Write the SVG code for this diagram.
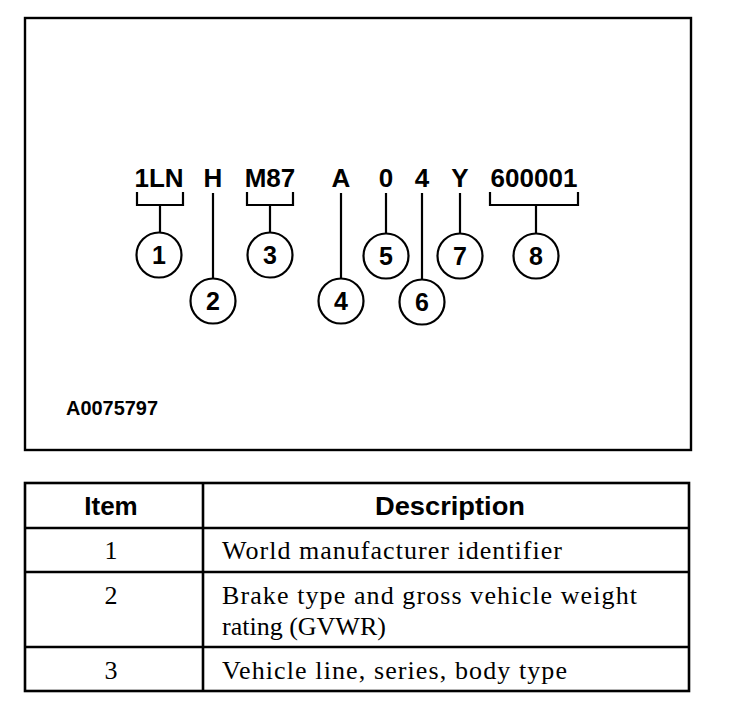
<svg xmlns="http://www.w3.org/2000/svg" width="736" height="722" viewBox="0 0 736 722">
<style>
.ln{fill:none;stroke:#000;stroke-width:2.2}
.c{fill:#fff;stroke:#000;stroke-width:2.2}
.lab{font-family:"Liberation Sans",Arial,sans-serif;font-weight:bold;font-size:26px;text-anchor:middle;fill:#000}
.num{font-family:"Liberation Sans",Arial,sans-serif;font-weight:bold;font-size:25px;text-anchor:middle;fill:#000}
.hd{font-family:"Liberation Sans",Arial,sans-serif;font-weight:bold;font-size:26px;text-anchor:middle;fill:#000}
.tb{font-family:"Liberation Serif","Times New Roman",serif;font-size:26px;fill:#000}
.grid{fill:none;stroke:#000;stroke-width:2.6}
</style>
<rect width="736" height="722" fill="#fff"/>
<rect x="25" y="18" width="666" height="432" fill="none" stroke="#000" stroke-width="2.4"/>
<g id="labels">
<text class="lab" x="159" y="187">1LN</text>
<text class="lab" x="213" y="187">H</text>
<text class="lab" x="270" y="187">M87</text>
<text class="lab" x="341" y="187">A</text>
<text class="lab" x="386" y="187">0</text>
<text class="lab" x="422" y="187">4</text>
<text class="lab" x="460" y="187">Y</text>
<text class="lab" x="534" y="187">600001</text>
</g>
<g id="connectors">
<path class="ln" d="M137,192 V205 H183 V192 M160,205 V233"/>
<path class="ln" d="M213,193 V278"/>
<path class="ln" d="M247,192 V205 H293 V192 M270,205 V233"/>
<path class="ln" d="M341,193 V279"/>
<path class="ln" d="M386,193 V234"/>
<path class="ln" d="M422,193 V280"/>
<path class="ln" d="M460,193 V234"/>
<path class="ln" d="M490,192 V205 H578 V192 M536,205 V234"/>
</g>
<g id="callout1"><circle class="c" cx="159" cy="255" r="22.5"/><text class="num" x="159" y="264">1</text></g>
<g id="callout2"><circle class="c" cx="213" cy="301" r="22.5"/><text class="num" x="213" y="310">2</text></g>
<g id="callout3"><circle class="c" cx="270" cy="255" r="22.5"/><text class="num" x="270" y="264">3</text></g>
<g id="callout4"><circle class="c" cx="341" cy="301" r="22.5"/><text class="num" x="341" y="310">4</text></g>
<g id="callout5"><circle class="c" cx="386" cy="256" r="22.5"/><text class="num" x="386" y="265">5</text></g>
<g id="callout6"><circle class="c" cx="422" cy="302" r="22.5"/><text class="num" x="422" y="311">6</text></g>
<g id="callout7"><circle class="c" cx="460" cy="256" r="22.5"/><text class="num" x="460" y="265">7</text></g>
<g id="callout8"><circle class="c" cx="536" cy="256" r="22.5"/><text class="num" x="536" y="265">8</text></g>
<text x="66" y="415" font-family="Liberation Sans,Arial,sans-serif" font-weight="bold" font-size="19.5" textLength="92" lengthAdjust="spacingAndGlyphs">A0075797</text>
<g id="table">
<rect class="grid" x="25" y="483" width="664" height="208"/>
<path class="grid" d="M203,483 V691 M25,528 H689 M25,572 H689 M25,647 H689"/>
<text class="hd" x="111" y="515">Item</text>
<text class="hd" x="450" y="515" textLength="150" lengthAdjust="spacingAndGlyphs">Description</text>
<text class="tb" x="111" y="559" text-anchor="middle">1</text>
<text class="tb" x="222" y="559" textLength="340" lengthAdjust="spacing">World manufacturer identifier</text>
<text class="tb" x="111" y="604" text-anchor="middle">2</text>
<text class="tb" x="222" y="604" textLength="415" lengthAdjust="spacing">Brake type and gross vehicle weight</text>
<text class="tb" x="222" y="635">rating (GVWR)</text>
<text class="tb" x="111" y="679" text-anchor="middle">3</text>
<text class="tb" x="222" y="679" textLength="345" lengthAdjust="spacing">Vehicle line, series, body type</text>
</g>
</svg>
